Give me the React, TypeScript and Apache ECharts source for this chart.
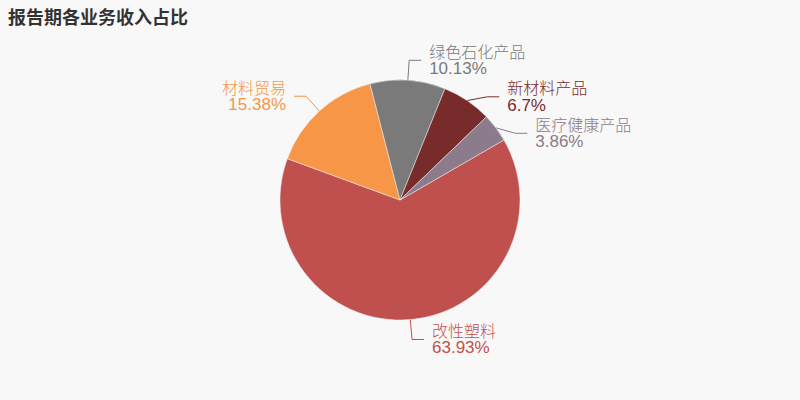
import { useEffect, useRef } from 'react';
import * as echarts from 'echarts';

const names = ['改性塑料', '材料贸易', '绿色石化产品', '新材料产品', '医疗健康产品'];
const shares = [63.93, 15.38, 10.13, 6.7, 3.86];
const colors = ['#c0504d', '#f79646', '#7a7a7a', '#772b2b', '#8c7b8b'];

export default function App() {
  const chartRef = useRef(null);
  useEffect(() => {
    document.body.style.margin = '0';
    const chart = echarts.init(chartRef.current, null, { renderer: 'svg' });
    const option = {
      animation: false,
      backgroundColor: '#f8f8f8',
      title: {
        text: '报告期各业务收入占比',
        left: 3,
        top: 2,
        textStyle: { fontSize: 18, fontWeight: 'bold', color: '#333', fontFamily: 'Noto Sans CJK SC' },
      },
      series: [
        {
          type: 'pie',
          center: [400, 200],
          radius: 120,
          startAngle: 30,
          clockwise: true,
          itemStyle: { borderColor: '#f0f0f0', borderWidth: 0.5 },
          label: {
            show: true,
            formatter: (p: any) => '{n|' + p.name + '}\n{v|' + p.value + '%}',
            distanceToLabelLine: 8,
            rich: {
              n: { fontSize: 16, lineHeight: 17, fontWeight: 300, fontFamily: 'Noto Sans CJK SC' },
              v: { fontSize: 17, lineHeight: 19, fontFamily: "'Liberation Sans', sans-serif" },
            },
          },
          labelLine: { show: true, length: 20, length2: 12, lineStyle: { width: 1 } },
          data: names.map((n, i) => ({
            name: n,
            value: shares[i],
            itemStyle: { color: colors[i] },
            label: { color: colors[i] },
          })),
        },
      ],
    };
    chart.setOption(option);
    return () => {
      chart.dispose();
    };
  }, []);

  return <div ref={chartRef} style={{ width: '800px', height: '400px' }} />;
}
